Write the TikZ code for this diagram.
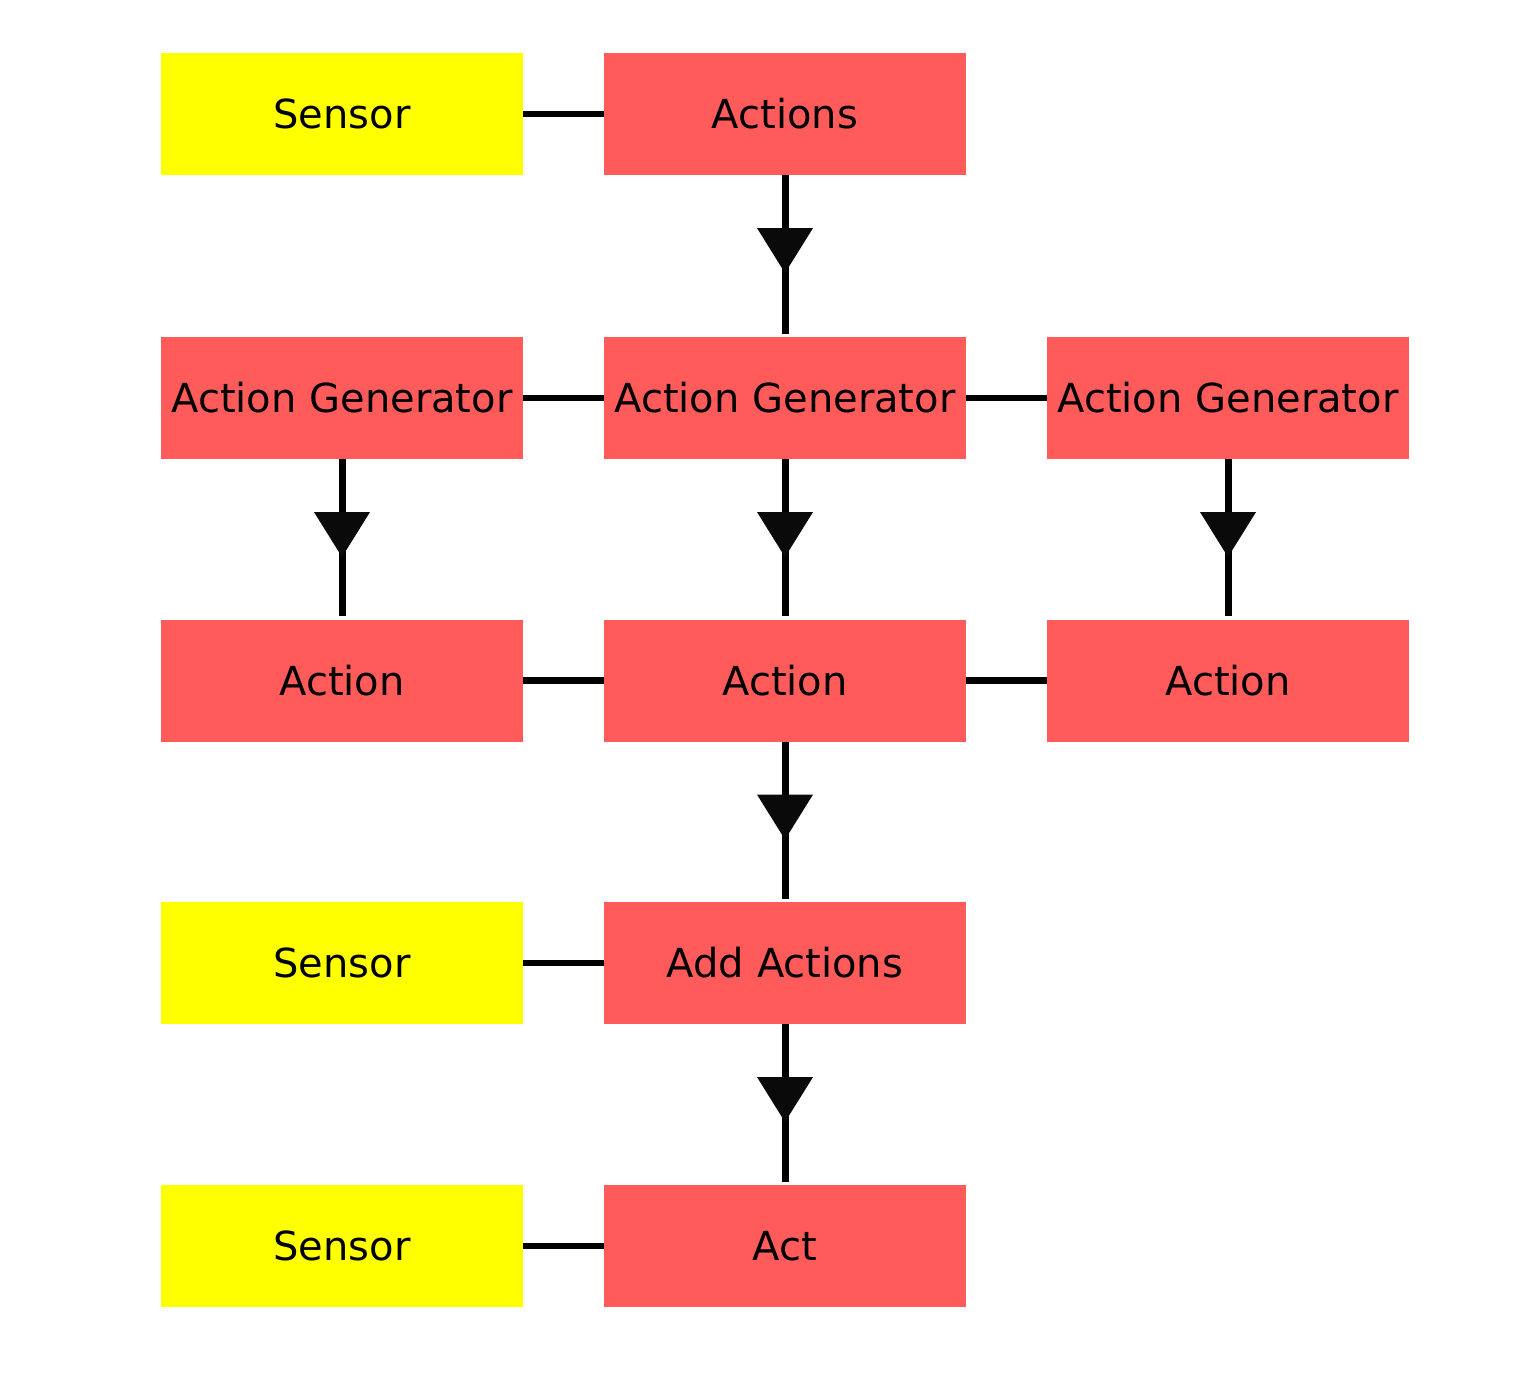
\documentclass[tikz,border=0pt]{standalone}
\usepackage{fontspec}
\setmainfont{DejaVu Sans}
\usetikzlibrary{arrows.meta,decorations.markings}
\definecolor{boxred}{HTML}{FF5B5B}
\definecolor{boxyel}{HTML}{FFFF00}
\tikzset{
  box/.style={minimum width=362pt,minimum height=122pt,inner sep=0pt,
    font=\fontsize{40}{48}\selectfont,text=black},
  redbox/.style={box,fill=boxred},
  yelbox/.style={box,fill=boxyel},
  link/.style={line width=6.8pt,black},
  flow/.style={line width=7pt,black,shorten >=3pt,
    postaction={decorate,decoration={markings,
      mark=at position 98pt with {\arrow{Triangle[width=54pt,length=45pt,color=black!96]}}}}}
}
\begin{document}
\begin{tikzpicture}[x=1pt,y=-1pt]
\useasboundingbox (0,0) rectangle (1537,1386);
\node[yelbox] (s1) at (342,114) {Sensor};
\node[redbox] (actions) at (785,114) {Actions};
\node[redbox] (ag1) at (342,398) {Action Generator};
\node[redbox] (ag2) at (785,398) {Action Generator};
\node[redbox] (ag3) at (1228,398) {Action Generator};
\node[redbox] (a1) at (342,680.5) {Action};
\node[redbox] (a2) at (785,680.5) {Action};
\node[redbox] (a3) at (1228,680.5) {Action};
\node[yelbox] (s2) at (342,963) {Sensor};
\node[redbox] (add) at (785,963) {Add Actions};
\node[yelbox] (s3) at (342,1246) {Sensor};
\node[redbox] (act) at (785,1246) {Act};

\draw[link] (s1) -- (actions);
\draw[link] (ag1) -- (ag2);
\draw[link] (ag2) -- (ag3);
\draw[link] (a1) -- (a2);
\draw[link] (a2) -- (a3);
\draw[link] (s2) -- (add);
\draw[link] (s3) -- (act);

\draw[flow] (actions) -- (ag2);
\draw[flow] (ag1) -- (a1);
\draw[flow] (ag2) -- (a2);
\draw[flow] (ag3) -- (a3);
\draw[flow] (a2) -- (add);
\draw[flow] (add) -- (act);
\end{tikzpicture}
\end{document}
